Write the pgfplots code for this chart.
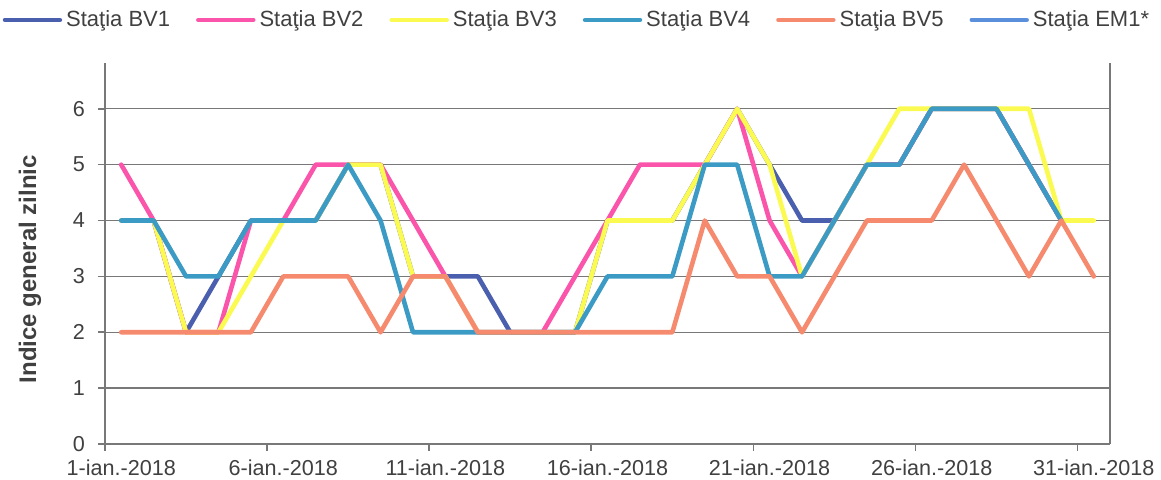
\documentclass[border=0pt]{standalone}
\usepackage{pgfplots}
\pgfplotsset{compat=1.18}
\usepackage{fontspec}
\setmainfont{Liberation Sans}
\definecolor{cBVa}{RGB}{75,95,175}
\definecolor{cBVb}{RGB}{250,85,170}
\definecolor{cBVc}{RGB}{250,250,80}
\definecolor{cBVd}{RGB}{60,155,196}
\definecolor{cBVe}{RGB}{246,138,110}
\definecolor{cEM}{RGB}{90,143,220}
\definecolor{txt}{RGB}{64,64,64}
\definecolor{gridc}{RGB}{120,120,120}
\begin{document}
\begin{tikzpicture}
\useasboundingbox (0,0) rectangle (580.5pt,240pt);
\begin{axis}[
  at={(52.5pt,18pt)}, anchor=south west,
  scale only axis, width=502.5pt, height=190.5pt,
  xmin=0.5, xmax=31.5, ymin=0, ymax=6.82,
  axis lines=left, axis line style={-, draw=gridc, line width=0.8pt},
  xtick={1,6,11,16,21,26,31},
  xticklabels={1-ian.-2018,6-ian.-2018,11-ian.-2018,16-ian.-2018,21-ian.-2018,26-ian.-2018,31-ian.-2018},
  minor xtick={0.5,5.5,10.5,15.5,20.5,25.5,30.5},
  major x tick style={draw=none},
  minor x tick style={draw=gridc, line width=0.8pt},
  minor tick length=3.5pt,
  ytick={0,1,2,3,4,5,6},
  major tick length=3.5pt,
  tick align=outside,
  y tick style={draw=gridc, line width=0.8pt},
  ymajorgrids, grid style={draw=gridc, line width=0.7pt},
  /pgf/number format/assume math mode=true,
  ticklabel style={font=\fontsize{10.8}{12}\selectfont, text=txt},
  xticklabel style={yshift=-1pt},
  yticklabel style={xshift=-3pt},
  ylabel={Indice general zilnic},
  ylabel style={at={(axis description cs:-0.0746,0.459)}, anchor=center, font=\fontsize{12}{14}\selectfont\bfseries, text=txt},
  legend columns=6,
  legend style={at={(axis description cs:0.4706,1.113)}, anchor=center, draw=none, fill=none,
    font=\fontsize{11}{13}\selectfont, text=txt,
    /tikz/every even column/.append style={column sep=11pt}},
  legend image code/.code={\draw[#1, line width=2.2pt] (0pt,0pt) -- (27.5pt,0pt);},
  every axis plot/.append style={line join=round, line cap=round},
  clip=false,
]
\addplot[cBVa, line width=2.3pt] coordinates {(1,4)(2,4)(3,2)(4,3)(5,4)(6,4)(7,4)(8,5)(9,5)(10,3)(11,3)(12,3)(13,2)(14,2)(15,2)(16,4)(17,4)(18,4)(19,5)(20,6)(21,5)(22,4)(23,4)(24,5)(25,5)(26,6)(27,6)(28,6)(29,5)(30,4)};
\addlegendentry{Staţia BV1}
\addplot[cBVb, line width=2.3pt] coordinates {(1,5)(2,4)(3,2)(4,2)(5,4)(6,4)(7,5)(8,5)(9,5)(10,4)(11,3)(12,2)(13,2)(14,2)(15,3)(16,4)(17,5)(18,5)(19,5)(20,6)(21,4)(22,3)(23,4)(24,5)(25,5)(26,6)(27,6)(28,6)(29,5)(30,4)};
\addlegendentry{Staţia BV2}
\addplot[cBVc, line width=2.3pt] coordinates {(1,4)(2,4)(3,2)(4,2)(5,3)(6,4)(7,4)(8,5)(9,5)(10,3)(11,3)(12,2)(13,2)(14,2)(15,2)(16,4)(17,4)(18,4)(19,5)(20,6)(21,5)(22,3)(23,4)(24,5)(25,6)(26,6)(27,6)(28,6)(29,6)(30,4)(31,4)};
\addlegendentry{Staţia BV3}
\addplot[cBVd, line width=2.3pt] coordinates {(1,4)(2,4)(3,3)(4,3)(5,4)(6,4)(7,4)(8,5)(9,4)(10,2)(11,2)(12,2)(13,2)(14,2)(15,2)(16,3)(17,3)(18,3)(19,5)(20,5)(21,3)(22,3)(23,4)(24,5)(25,5)(26,6)(27,6)(28,6)(29,5)(30,4)};
\addlegendentry{Staţia BV4}
\addplot[cBVe, line width=2.3pt] coordinates {(1,2)(2,2)(3,2)(4,2)(5,2)(6,3)(7,3)(8,3)(9,2)(10,3)(11,3)(12,2)(13,2)(14,2)(15,2)(16,2)(17,2)(18,2)(19,4)(20,3)(21,3)(22,2)(23,3)(24,4)(25,4)(26,4)(27,5)(28,4)(29,3)(30,4)(31,3)};
\addlegendentry{Staţia BV5}
\addlegendimage{cEM}
\addlegendentry{Staţia EM1*}
\draw[gridc, line width=0.8pt] (rel axis cs:1,0) -- (rel axis cs:1,1);
\end{axis}
\end{tikzpicture}
\end{document}
